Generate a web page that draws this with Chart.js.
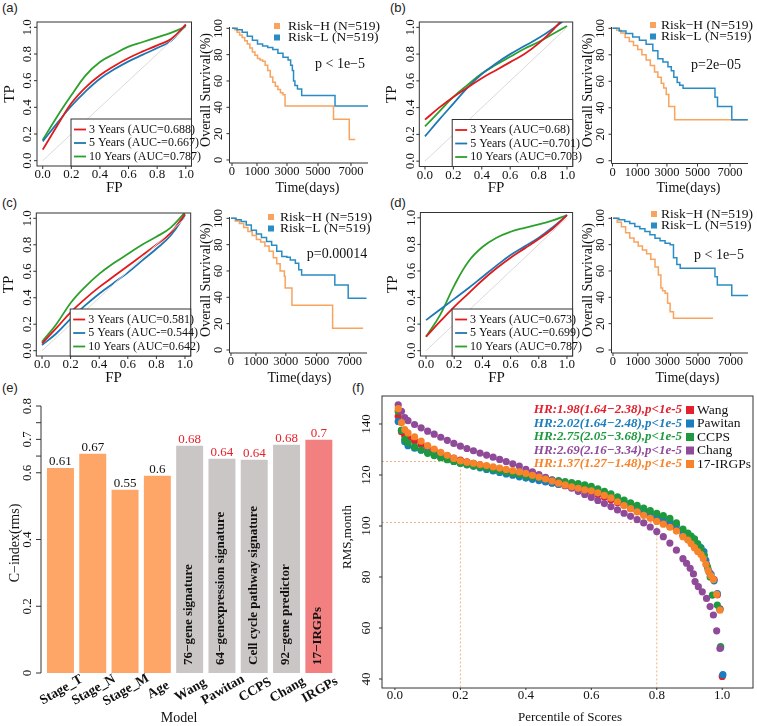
<!DOCTYPE html>
<html>
<head>
<meta charset="utf-8">
<script src="https://cdn.jsdelivr.net/npm/chart.js@4.4.1/dist/chart.umd.min.js"></script>
<style>
  html, body { margin: 0; background: #fff; }
  #wrap { position: relative; width: 757px; height: 726px; overflow: hidden; background: #fff; }
  #wrap canvas { position: absolute; left: 0; top: 0; }
  .tag { position: absolute; font: 13px "Liberation Sans", Arial, sans-serif; color: #222; line-height: 1; }
</style>
</head>
<body>
<div id="wrap">
  <div class="tag" style="left:2px;top:1px">(a)</div>
  <div class="tag" style="left:390px;top:1px">(b)</div>
  <div class="tag" style="left:2px;top:196px">(c)</div>
  <div class="tag" style="left:390px;top:196px">(d)</div>
  <div class="tag" style="left:2px;top:381px">(e)</div>
  <div class="tag" style="left:352px;top:381px">(f)</div>
</div>
<script>
// ---------- ROC curves: TP at each FP ----------
const fpGrid = [0, 0.1, 0.2, 0.3, 0.4, 0.5, 0.6, 0.7, 0.8, 0.9, 1.0];
const rocA3  = [0.083, 0.26, 0.43, 0.55, 0.64, 0.71, 0.77, 0.82, 0.865, 0.915, 1.02];
const rocA5  = [0.145, 0.28, 0.41, 0.52, 0.615, 0.685, 0.745, 0.795, 0.845, 0.90, 1.02];
const rocA10 = [0.155, 0.33, 0.49, 0.64, 0.74, 0.80, 0.855, 0.89, 0.925, 0.96, 1.005];
const rocB3  = [0.31, 0.40, 0.48, 0.55, 0.62, 0.68, 0.74, 0.80, 0.88, 0.98, 1.10];
const rocB5  = [0.185, 0.31, 0.43, 0.55, 0.65, 0.73, 0.80, 0.86, 0.92, 0.99, 1.07];
const rocB10 = [0.26, 0.37, 0.48, 0.57, 0.655, 0.72, 0.78, 0.84, 0.89, 0.95, 1.01];
const rocC3  = [0.055, 0.17, 0.29, 0.39, 0.48, 0.56, 0.64, 0.72, 0.80, 0.89, 1.03];
const rocC5  = [0.043, 0.13, 0.24, 0.34, 0.43, 0.51, 0.59, 0.68, 0.77, 0.87, 1.025];
const rocC10 = [0.068, 0.20, 0.36, 0.48, 0.58, 0.66, 0.73, 0.80, 0.86, 0.93, 1.045];
const rocD3  = [0.105, 0.22, 0.33, 0.43, 0.53, 0.62, 0.70, 0.77, 0.84, 0.92, 1.02];
const rocD5  = [0.23, 0.31, 0.39, 0.47, 0.555, 0.64, 0.72, 0.785, 0.85, 0.93, 1.02];
const rocD10 = [0.105, 0.27, 0.49, 0.67, 0.78, 0.85, 0.895, 0.925, 0.95, 0.98, 1.02];
const aucA = ['3 Years (AUC=0.688)', '5 Years (AUC-=0.667)', '10 Years (AUC=0.787)'];
const aucB = ['3 Years (AUC=0.68)', '5 Years (AUC-=0.701)', '10 Years (AUC=0.703)'];
const aucC = ['3 Years (AUC=0.581)', '5 Years (AUC-=0.544)', '10 Years (AUC=0.642)'];
const aucD = ['3 Years (AUC=0.673)', '5 Years (AUC-=0.699)', '10 Years (AUC=0.787)'];

// ---------- Kaplan-Meier: time (days) / survival (%) ----------
const timeAH = [0,150,300,450,600,750,900,1050,1200,1350,1500,1650,1800,1950,2100,2250,2400,2550,2700,2850,3000,3120,5970,6900,7250];
const survAH = [100,99,97,95,93,90.5,88,85,82,79.5,77,76,75,72,68,63,59,56,53.5,51,49.5,41,31,15.5,15.5];
const timeAL = [0,300,600,900,1200,1500,1800,2100,2400,2700,3000,3300,3450,3550,3620,3700,3850,4100,6060,8000];
const survAL = [100,99,97,94,91,88,86.5,85.5,84,81,78,76,72,68,60,56.5,54,49,41,41];
const timeBH = [0,250,500,750,1000,1250,1500,1750,2000,2250,2500,2700,2900,3050,3200,3350,3700,8050];
const survBH = [100,98.5,96.5,93,90,87,84,80,76,72,67,63,58.5,55,50,41,31,31];
const timeBL = [0,400,800,1200,1600,2000,2400,2700,3000,3300,3500,3650,3850,4000,4200,6100,6250,7100,8050];
const survBL = [100,98,96,93.5,91,88,83,77,74.5,71,68,63,59,57,54.7,48,41,31,31];
const timeCH = [0,250,500,750,1000,1250,1500,1750,2000,2250,2500,2700,2900,3150,3200,3600,6000,7800];
const survCH = [100,98,96,93,90,87,84,82,79,75,70,65.5,60,56,47,34,16.5,16.5];
const timeCL = [0,300,600,900,1200,1500,1800,2100,2400,2700,3000,3300,3500,3800,4000,4170,6130,6920,8000];
const survCL = [100,99,97.5,95,91,88,85.5,82.3,79.5,75,71,70.5,68.4,65.8,61,57,49.4,39.2,39.2];
const timeDH = [0,250,500,750,1000,1250,1500,1750,2000,2250,2500,2700,2850,2950,3100,3250,3400,3600,5950];
const survDH = [100,97,93.5,89,85,82,79,76,73,69,63,57,47,45,43,35.5,29,24,24];
const timeDL = [0,350,700,1000,1300,1600,1900,2200,2500,2800,3100,3400,3600,3800,4000,6070,6210,7070,8050];
const survDL = [100,99,97.5,96,93.7,92,90,87.5,84.8,83,81,80,70,65,62,55.7,49.4,41.3,41.3];
const kmTicks = [0, 1000, 3000, 5000, 7000];
const pA = 'p < 1e\u22125', pB = 'p=2e\u221205', pC = 'p=0.00014', pD = 'p < 1e\u22125';

// ---------- C-index bars ----------
const models = ['Stage_T', 'Stage_N', 'Stage_M', 'Age', 'Wang', 'Pawitan', 'CCPS', 'Chang', 'IRGPs'];
const cIndex = [0.614, 0.657, 0.549, 0.591, 0.681, 0.642, 0.639, 0.684, 0.699];
const cText  = ['0.61', '0.67', '0.55', '0.6', '0.68', '0.64', '0.64', '0.68', '0.7'];
const signatures = ['', '', '', '', '76\u2212gene signature', '64\u2212genexpression signature',
                    'Cell cycle pathway signature', '92\u2212gene predictor', '17\u2212IRGPs'];
const cTicks = [0, 0.2, 0.4, 0.6, 0.65, 0.7, 0.75, 0.8];

// ---------- RMS vs percentile ----------
const pctGrid = [0.01,0.02,0.03,0.04,0.06,0.08,0.10,0.12,0.14,0.16,0.18,0.20,0.22,0.24,0.26,0.28,0.30,0.32,0.34,0.36,0.38,0.40,0.42,0.44,0.46,0.48,0.50,0.52,0.54,0.56,0.58,0.60,0.62,0.64,0.66,0.68,0.70,0.72,0.74,0.76,0.78,0.80,0.82,0.84,0.86,0.88];
const rmsWang    = [143,137,135.5,134.5,133.3,132,130.8,129.6,128.5,127.5,126.6,125.8,125.2,124.6,124,123.4,122.8,122.2,121.6,121,120.4,119.8,119.1,118.4,117.7,117,116.4,115.8,115.2,114.6,114,113.3,112.4,111.4,110.3,109.2,108.1,106.9,105.8,104.7,103.5,102.3,101.3,100.2,98.6,96.4];
const rmsPawitan = [141,137.5,133,131.5,130.5,129.7,128.8,127.8,126.9,126.1,125.3,124.6,124,123.4,122.8,122.2,121.6,121,120.4,119.9,119.3,118.8,118.3,117.8,117.3,116.8,116.3,115.9,115.6,115.3,114.9,114.4,113.5,112.5,111.5,110.5,109.5,108.4,107.3,106.2,105.1,104,103,102,100.3,97.8];
const rmsCCPS    = [145,137.5,134,132.5,131,129.8,128.5,127.6,126.8,126,125.3,124.6,124.1,123.6,123.1,122.7,122.2,121.7,121.2,120.7,120.2,119.7,119.3,118.9,118.5,118.1,117.8,117.4,117,116.6,116.1,115.5,114.6,113.6,112.6,111.4,110.2,109.1,108.1,107,106,105,104.1,103,101.2,98.8];
const rmsChang   = [147.5,145,142.5,141.3,139.8,138.5,137.2,136,134.8,133.6,132.4,131.3,130.4,129.5,128.6,127.8,127,126.1,125.3,124.4,123.5,122.2,121.2,120.2,119.1,118,117,115.9,114.8,113.6,112.4,111.2,110,108.8,107.6,106.3,105,103.8,102.5,101.2,99.6,97.8,95.8,93.3,90.5,87.2];
const rmsIRGPs   = [146,140.5,137.8,136.5,135,133.3,131.5,130.2,128.9,127.7,126.5,125.5,125,124.6,124.1,123.7,123.2,122.7,122.2,121.7,121.2,120.6,119.9,119.2,118.4,117.6,116.8,116.1,115.4,114.8,114.2,113.8,113,112,111,109.5,108,106.8,105.5,104.2,103,101.8,100.7,99.5,98,95.8];
const tailWang    = [[0.895,95],[0.905,93.6],[0.915,92.2],[0.925,90.8],[0.935,89.5],[0.944,88.5],[0.952,85],[0.96,82],[0.975,79],[0.985,73],[0.993,67.5],[1.0,41]];
const tailPawitan = [[0.895,96.3],[0.905,95.5],[0.915,94.8],[0.925,93],[0.935,91.5],[0.944,90],[0.95,86.5],[0.957,83],[0.966,81],[0.975,78.5],[0.985,73.5],[0.993,67.3],[0.995,52.3],[1.002,41.7]];
const tailCCPS    = [[0.895,97.2],[0.905,96],[0.915,95],[0.925,93],[0.935,91],[0.945,88.5],[0.955,84],[0.963,80],[0.970,72.9],[0.985,69],[0.995,52.7]];
const tailChang   = [[0.891,85.4],[0.902,83.4],[0.912,81.2],[0.917,78.2],[0.927,76.2],[0.939,74.2],[0.952,71.6],[0.963,68.4],[0.973,65.1],[0.983,58.9],[0.993,52]];
const tailIRGPs   = [[0.895,94.5],[0.905,93],[0.915,91.5],[0.925,90],[0.935,88.8],[0.942,87.3],[0.95,85],[0.957,82.5],[0.965,80.5],[0.973,79],[0.983,73.2],[0.993,67]];
const hrText = ['HR:1.98(1.64\u22122.38),p<1e-5', 'HR:2.02(1.64\u22122.48),p<1e-5', 'HR:2.75(2.05\u22123.68),p<1e-5',
                'HR:2.69(2.16\u22123.34),p<1e-5', 'HR:1.37(1.27\u22121.48),p<1e-5'];
const rmsNames = ['Wang', 'Pawitan', 'CCPS', 'Chang', '17-IRGPs'];

// ---------- helpers ----------
const W = 757, H = 726;
const SERIF = '"Liberation Serif","Times New Roman",serif';
const rocColors = ['#e31a1c', '#1f78b4', '#2ca02c'];
const kmColors = ['#f8a35e', '#2a8cc4'];
const rmsColors = ['#e3202e', '#1a7dbd', '#1e9a3e', '#8f4a99', '#f7842a'];

Chart.defaults.animation = false;
Chart.defaults.responsive = false;
Chart.defaults.devicePixelRatio = 1;
Chart.defaults.font.family = SERIF;
Chart.defaults.plugins.legend.display = false;
Chart.defaults.plugins.tooltip.enabled = false;

function newCanvas() {
  const c = document.createElement('canvas');
  c.width = W; c.height = H;
  document.getElementById('wrap').appendChild(c);
  return c;
}
function pad(b) { return { left: b[0], top: b[1], right: W - b[2], bottom: H - b[3] }; }
function txt(ctx, s, x, y, o = {}) {
  ctx.save();
  ctx.font = o.font || '13px ' + SERIF;
  ctx.fillStyle = o.color || '#111';
  ctx.textAlign = o.align || 'center';
  ctx.textBaseline = o.base || 'middle';
  ctx.translate(x, y);
  if (o.rot) ctx.rotate(o.rot);
  ctx.fillText(s, 0, 0);
  ctx.restore();
}
function seg(ctx, x1, y1, x2, y2, color = '#333', w = 1, dash) {
  ctx.save();
  ctx.strokeStyle = color; ctx.lineWidth = w;
  if (dash) ctx.setLineDash(dash);
  ctx.beginPath(); ctx.moveTo(x1, y1); ctx.lineTo(x2, y2); ctx.stroke();
  ctx.restore();
}
const UP = -Math.PI / 2;

// ---------- ROC panel ----------
function rocChart(box, curves, labels) {
  new Chart(newCanvas(), {
    type: 'scatter',
    data: {
      datasets: [
        { data: [{ x: 0, y: 0 }, { x: 1, y: 1 }], showLine: true, borderColor: '#dadada', borderWidth: 1, pointRadius: 0 },
        ...curves.map((tp, i) => ({
          data: fpGrid.map((x, j) => ({ x, y: tp[j] })),
          showLine: true, borderColor: rocColors[i], borderWidth: 1.8, pointRadius: 0,
          tension: 0.4, clip: 0
        }))
      ]
    },
    options: {
      layout: { padding: pad(box) },
      scales: {
        x: { type: 'linear', min: -0.04, max: 1.04, display: false },
        y: { type: 'linear', min: -0.04, max: 1.04, display: false }
      }
    },
    plugins: [{
      id: 'rocAxes',
      afterDraw(ch) {
        const { ctx, chartArea: a, scales: { x, y } } = ch;
        ctx.save();
        ctx.strokeStyle = '#333'; ctx.lineWidth = 1;
        ctx.strokeRect(a.left, a.top, a.right - a.left, a.bottom - a.top);
        ctx.restore();
        [0, 0.2, 0.4, 0.6, 0.8, 1.0].forEach(v => {
          const px = x.getPixelForValue(v), py = y.getPixelForValue(v);
          seg(ctx, px, a.bottom, px, a.bottom + 3);
          txt(ctx, v.toFixed(1), px, a.bottom + 9);
          seg(ctx, a.left, py, a.left - 3, py);
          txt(ctx, v.toFixed(1), a.left - 9, py, { rot: UP });
        });
        txt(ctx, 'FP', x.getPixelForValue(0.5), a.bottom + 22, { font: '15px ' + SERIF });
        txt(ctx, 'TP', a.left - 27, (a.top + a.bottom) / 2, { font: '15px ' + SERIF, rot: UP });
        const lx = a.right - 120.5, ly = a.bottom - 47;
        ctx.save();
        ctx.fillStyle = '#fff'; ctx.fillRect(lx, ly, a.right - lx, a.bottom - ly);
        ctx.strokeStyle = '#333'; ctx.strokeRect(lx, ly, a.right - lx, a.bottom - ly);
        ctx.restore();
        labels.forEach((s, i) => {
          const ry = ly + 10.5 + i * 13.5;
          seg(ctx, lx + 3, ry, lx + 15, ry, rocColors[i], 1.8);
          txt(ctx, s, lx + 18, ry, { align: 'left', font: '12px ' + SERIF });
        });
      }
    }]
  });
}

// ---------- Kaplan-Meier panel ----------
const kmLabelNudge = [0, 8, 4, 1, 0];
function kmChart(c) {
  const toPts = (t, s) => t.map((v, i) => ({ x: v, y: s[i] }));
  new Chart(newCanvas(), {
    type: 'scatter',
    data: {
      datasets: [
        { data: toPts(c.tL, c.sL), showLine: true, stepped: true, borderColor: kmColors[1], borderWidth: 1.5, pointRadius: 0 },
        { data: toPts(c.tH, c.sH), showLine: true, stepped: true, borderColor: kmColors[0], borderWidth: 1.5, pointRadius: 0 }
      ]
    },
    options: {
      layout: { padding: pad(c.box) },
      scales: {
        x: { type: 'linear', min: c.xr[0], max: c.xr[1], display: false },
        y: { type: 'linear', min: c.yr[0], max: c.yr[1], display: false }
      }
    },
    plugins: [{
      id: 'kmAxes',
      afterDraw(ch) {
        const { ctx, chartArea: a, scales: { x, y } } = ch;
        seg(ctx, a.left, a.top, a.left, a.bottom);
        seg(ctx, a.left, a.bottom, a.right, a.bottom);
        [0, 20, 40, 60, 80, 100].forEach(v => {
          const py = y.getPixelForValue(v);
          seg(ctx, a.left, py, a.left - 3, py);
          txt(ctx, String(v), a.left - 11, py, { rot: UP, font: '12.5px ' + SERIF });
        });
        kmTicks.forEach((v, i) => {
          const px = x.getPixelForValue(v) + kmLabelNudge[i];
          seg(ctx, px, a.bottom, px, a.bottom + 3);
          txt(ctx, String(v), px, a.bottom + 9, { font: '12.5px ' + SERIF });
        });
        txt(ctx, 'Time(days)', a.left + c.tx, a.bottom + 25, { font: '14px ' + SERIF });
        txt(ctx, 'Overall Survival(%)', a.left - 23, (a.top + a.bottom) / 2 - 5, { font: '14px ' + SERIF, rot: UP });
        ['Risk\u2212H (N=519)', 'Risk\u2212L (N=519)'].forEach((s, i) => {
          const ry = c.leg[1] + i * 11.5;
          ctx.fillStyle = kmColors[i];
          ctx.fillRect(c.leg[0], ry - 3, 6, 6);
          txt(ctx, s, c.leg[0] + c.leg[2], ry, { align: 'left', font: '13.5px ' + SERIF });
        });
        txt(ctx, c.p, c.pp[0], c.pp[1], { font: '14px ' + SERIF });
      }
    }]
  });
}

rocChart([37, 22, 191.5, 166], [rocA3, rocA5, rocA10], aucA);
rocChart([419.3, 22, 572.7, 166.5], [rocB3, rocB5, rocB10], aucB);
rocChart([36.3, 213, 190.7, 356], [rocC3, rocC5, rocC10], aucC);
rocChart([420.4, 212.5, 572.6, 356], [rocD3, rocD5, rocD10], aucD);

kmChart({ box: [229.5, 27, 368, 163], xr: [-147, 8000], yr: [-2.3, 101], tH: timeAH, sH: survAH, tL: timeAL, sL: survAL,
          tx: 78, leg: [274, 26, 14], p: pA, pp: [340, 64] });
kmChart({ box: [611.5, 27, 748, 163.5], xr: [-60, 8065], yr: [-2.1, 101], tH: timeBH, sH: survBH, tL: timeBL, sL: survBL,
          tx: 77, leg: [650, 25, 11], p: pB, pp: [716, 65] });
kmChart({ box: [229.5, 217, 367, 353], xr: [-88, 8030], yr: [-2.3, 101], tH: timeCH, sH: survCH, tL: timeCL, sL: survCL,
          tx: 70, leg: [268, 217, 12], p: pC, pp: [337, 254] });
kmChart({ box: [611.5, 217, 748, 353], xr: [-89, 8036], yr: [-2.3, 101], tH: timeDH, sH: survDH, tL: timeDL, sL: survDL,
          tx: 76, leg: [651, 214, 10], p: pD, pp: [719, 255] });

// ---------- C-index bar panel ----------
new Chart(newCanvas(), {
  type: 'bar',
  data: {
    labels: models,
    datasets: [{
      data: cIndex,
      backgroundColor: models.map((m, i) => i < 4 ? '#fea667' : (i === 8 ? '#f28080' : '#cac6c6')),
      barPercentage: 0.835, categoryPercentage: 1
    }]
  },
  options: {
    layout: { padding: pad([44.3, 406, 335, 673]) },
    scales: {
      x: { display: false },
      y: { min: 0, max: 0.8, display: false }
    }
  },
  plugins: [{
    id: 'barAxes',
    afterDraw(ch) {
      const { ctx, chartArea: a, scales: { x, y } } = ch;
      const ax = 41;
      seg(ctx, ax, y.getPixelForValue(0), ax, y.getPixelForValue(0.8));
      cTicks.forEach(v => {
        const py = y.getPixelForValue(v);
        seg(ctx, ax, py, ax - 5, py);
        if (v !== 0.65 && v !== 0.75) txt(ctx, v === 0 ? '0' : String(v), ax - 13, py, { rot: UP });
      });
      txt(ctx, 'C\u2212index(rms)', 15, 543, { font: '14px ' + SERIF, rot: UP });
      txt(ctx, 'Model', 179, 718, { font: '14px ' + SERIF });
      models.forEach((m, i) => {
        const cx = x.getPixelForValue(i), top = y.getPixelForValue(cIndex[i]);
        txt(ctx, cText[i], cx, top - 3, { base: 'alphabetic', color: i < 4 ? '#111' : '#e8202a' });
        if (signatures[i]) txt(ctx, signatures[i], cx - 1, a.bottom - 8, { rot: UP, align: 'left', font: 'bold 13px ' + SERIF });
        txt(ctx, m, cx + 1, 690, { rot: -Math.PI / 6, font: 'bold 13.5px ' + SERIF });
      });
    }
  }]
});

// ---------- RMS scatter panel ----------
const rmsSeries = [rmsWang, rmsPawitan, rmsCCPS, rmsChang, rmsIRGPs];
const rmsTails = [tailWang, tailPawitan, tailCCPS, tailChang, tailIRGPs];
new Chart(newCanvas(), {
  type: 'scatter',
  data: {
    datasets: rmsSeries.map((ys, i) => ({
      data: pctGrid.map((x, j) => ({ x, y: ys[j] })).concat(rmsTails[i].map(([x, y]) => ({ x, y }))),
      backgroundColor: rmsColors[i], borderWidth: 0, pointRadius: 3.6, order: 5 - i
    }))
  },
  options: {
    layout: { padding: pad([382, 396, 755, 688]) },
    scales: {
      x: { type: 'linear', min: -0.0395, max: 1.094, display: false },
      y: { type: 'linear', min: 36.47, max: 150.98, display: false }
    }
  },
  plugins: [{
    id: 'rmsAxes',
    beforeDatasetsDraw(ch) {
      const { ctx, chartArea: a, scales: { x, y } } = ch;
      const guide = '#f4b183';
      [[0.2, 125.3], [0.8, 101.4]].forEach(([gx, gy]) => {
        const px = x.getPixelForValue(gx), py = y.getPixelForValue(gy);
        seg(ctx, a.left, py, px, py, guide, 1, [2, 2]);
        seg(ctx, px, py, px, a.bottom, guide, 1, [2, 2]);
      });
    },
    afterDraw(ch) {
      const { ctx, chartArea: a, scales: { x, y } } = ch;
      ctx.save();
      ctx.strokeStyle = '#333'; ctx.lineWidth = 1;
      ctx.strokeRect(a.left, a.top, a.right - a.left, a.bottom - a.top);
      ctx.restore();
      [0, 0.2, 0.4, 0.6, 0.8, 1.0].forEach(v => {
        const px = x.getPixelForValue(v);
        seg(ctx, px, a.bottom, px, a.bottom + 2);
        txt(ctx, v.toFixed(1), px, a.bottom + 8);
      });
      [40, 60, 80, 100, 120, 140].forEach(v => {
        const py = y.getPixelForValue(v);
        seg(ctx, a.left, py, a.left - 3, py);
        txt(ctx, String(v), a.left - 15, py, { rot: UP });
      });
      txt(ctx, 'Percentile of Scores', 570, 718);
      txt(ctx, 'RMS,month', 348, 537, { rot: UP });
      hrText.forEach((s, i) => {
        const ry = 410 + i * 13.5;
        txt(ctx, s, 682, ry, { align: 'right', color: rmsColors[i], font: 'italic bold 13px ' + SERIF });
        ctx.fillStyle = rmsColors[i];
        ctx.fillRect(686, ry - 4, 8, 8);
        txt(ctx, rmsNames[i], 697, ry, { align: 'left', font: '13.5px ' + SERIF });
      });
    }
  }]
});
</script>
</body>
</html>
